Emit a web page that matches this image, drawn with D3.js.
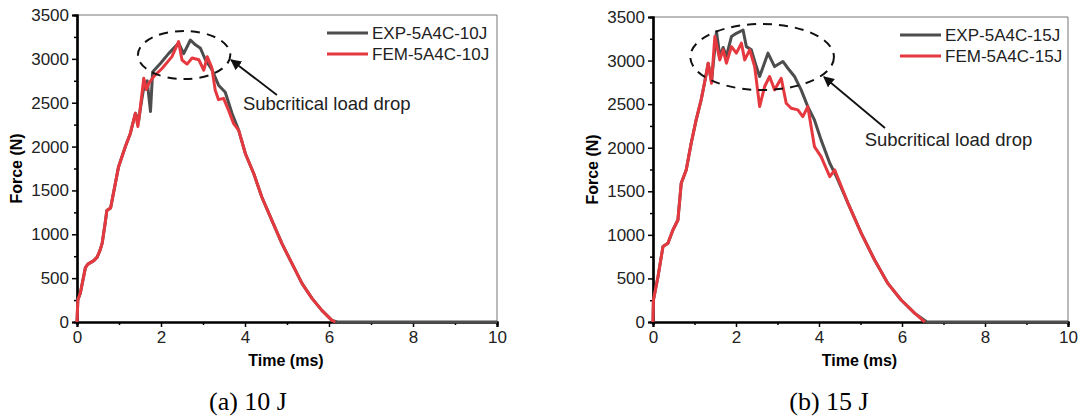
<!DOCTYPE html>
<html>
<head>
<meta charset="utf-8">
<script src="https://cdn.jsdelivr.net/npm/d3@7"></script>
<style>
body { margin: 0; background: #fff; }
text { font-family: "Liberation Sans", Arial, sans-serif; }
</style>
</head>
<body>
<div id="chart-area"></div>
<script>
// 10 J test, experiment + FE model
let exp10Time = [0, 0.02, 0.08, 0.2, 0.26, 0.4, 0.48, 0.55, 0.6, 0.67, 0.71, 0.8, 0.99, 1.15, 1.27, 1.39, 1.47, 1.53, 1.6, 1.67, 1.75, 1.8, 1.99, 2.18, 2.42, 2.54, 2.7, 2.82, 2.94, 3.06, 3.21, 3.37, 3.53, 3.69, 3.85, 4.01, 4.21, 4.4, 4.64, 4.88, 5.12, 5.36, 5.6, 5.83, 6.07, 6.2, 10]
let exp10Force = [0, 250, 330, 620, 660, 700, 740, 820, 900, 1125, 1270, 1300, 1771, 1999, 2150, 2380, 2300, 2500, 2700, 2750, 2400, 2850, 2950, 3060, 3180, 3060, 3215, 3160, 3120, 2987, 2880, 2700, 2620, 2380, 2185, 1918, 1690, 1425, 1159, 893, 665, 437, 266, 133, 19, 0, 0]
let fem10Time = [0, 0.02, 0.08, 0.2, 0.26, 0.4, 0.48, 0.55, 0.6, 0.67, 0.71, 0.8, 0.99, 1.15, 1.27, 1.39, 1.45, 1.51, 1.59, 1.65, 1.71, 1.83, 2.03, 2.26, 2.42, 2.5, 2.62, 2.74, 2.9, 3.02, 3.1, 3.21, 3.29, 3.37, 3.49, 3.61, 3.73, 3.85, 4.01, 4.21, 4.4, 4.64, 4.88, 5.12, 5.36, 5.6, 5.83, 6.07, 6.15]
let fem10Force = [0, 250, 330, 620, 660, 700, 740, 820, 900, 1125, 1270, 1300, 1771, 1999, 2150, 2380, 2228, 2456, 2779, 2650, 2720, 2800, 2893, 3025, 3196, 2987, 2940, 3010, 2990, 2870, 3025, 2900, 2645, 2535, 2550, 2413, 2261, 2185, 1918, 1690, 1425, 1159, 893, 665, 437, 266, 133, 19, 0]

// 15 J test
let exp15Time = [0, 0.01, 0.12, 0.24, 0.36, 0.48, 0.6, 0.68, 0.8, 0.92, 1.04, 1.16, 1.24, 1.33, 1.41, 1.53, 1.61, 1.69, 1.77, 1.89, 2.01, 2.17, 2.25, 2.37, 2.49, 2.57, 2.77, 2.93, 3.13, 3.25, 3.41, 3.57, 3.73, 3.89, 4.05, 4.26, 4.42, 4.7, 5.02, 5.34, 5.66, 5.98, 6.31, 6.6, 10]
let exp15Force = [0, 252, 520, 865, 903, 1056, 1170, 1592, 1745, 2051, 2319, 2549, 2740, 2970, 2760, 3332, 3050, 3150, 3050, 3275, 3313, 3351, 3160, 3123, 2931, 2817, 3085, 2931, 2990, 2912, 2817, 2664, 2472, 2319, 2090, 1822, 1668, 1362, 1017, 711, 443, 252, 99, 0, 0]
let fem15Time = [0, 0.01, 0.12, 0.24, 0.36, 0.48, 0.6, 0.68, 0.8, 0.92, 1.04, 1.16, 1.24, 1.33, 1.41, 1.49, 1.61, 1.69, 1.77, 1.89, 2.01, 2.13, 2.21, 2.33, 2.45, 2.57, 2.69, 2.81, 2.93, 3.09, 3.21, 3.33, 3.49, 3.61, 3.73, 3.81, 3.89, 4.05, 4.26, 4.38, 4.7, 5.02, 5.34, 5.66, 5.98, 6.31, 6.55]
let fem15Force = [0, 252, 520, 865, 903, 1056, 1170, 1592, 1745, 2051, 2319, 2549, 2740, 2970, 2740, 3275, 3008, 3123, 2970, 3160, 3085, 3200, 3008, 3123, 2931, 2472, 2702, 2817, 2664, 2797, 2510, 2453, 2434, 2357, 2472, 2243, 2013, 1898, 1668, 1745, 1362, 1017, 711, 443, 252, 99, 0]

let xTicks = [0, 2, 4, 6, 8, 10]
let yTicks = [0, 500, 1000, 1500, 2000, 2500, 3000, 3500]

let width = 1081,
height = 418;

let svg = d3.select("#chart-area").append("svg")
.attr("width", width)
.attr("height", height)

svg.append('rect').attr('width', width).attr('height', height).attr('fill', '#fff')

let defs = svg.append('defs')
defs.append('marker')
	.attr('id', 'arrow')
	.attr('viewBox', '0 0 10 10')
	.attr('refX', 9).attr('refY', 5)
	.attr('markerWidth', 6).attr('markerHeight', 6)
	.attr('orient', 'auto')
	.append('path')
	.attr('d', 'M0,0 L10,5 L0,10 Z')
	.attr('fill', '#111')

function drawPanel(opt) {
	let x = d3.scaleLinear().domain([0, 10]).range([opt.left, opt.right])
	let y = d3.scaleLinear().domain([0, 3500]).range([opt.bottom, opt.top])
	let g = svg.append('g')

	// top + right frame
	g.append('path')
		.attr('d', `M${opt.left},${opt.top}H${opt.right}V${opt.bottom}`)
		.attr('fill', 'none').attr('stroke', '#777').attr('stroke-width', 1)

	// minor ticks
	let xAxisMinor = d3.axisBottom(x).tickValues(d3.range(1, 10, 2)).tickSize(3).tickFormat('')
	let yAxisMinor = d3.axisLeft(y).tickValues(d3.range(250, 3500, 500)).tickSize(3).tickFormat('')
	g.append('g').attr('transform', `translate(0,${opt.bottom})`).call(xAxisMinor)
	g.append('g').attr('transform', `translate(${opt.left},0)`).call(yAxisMinor)

	let xAxis = d3.axisBottom(x).tickValues(xTicks).tickSize(5).tickPadding(4).tickFormat(d3.format('d'))
	let yAxis = d3.axisLeft(y).tickValues(yTicks).tickSize(5).tickPadding(3).tickFormat(d3.format('d'))
	let gx = g.append('g').attr('class', 'axis').attr('transform', `translate(0,${opt.bottom})`).call(xAxis)
	let gy = g.append('g').attr('class', 'axis').attr('transform', `translate(${opt.left},0)`).call(yAxis)
	g.selectAll('.domain').attr('stroke', '#000').attr('stroke-width', 2.2)
	g.selectAll('.tick line').attr('stroke', '#000').attr('stroke-width', 1.5)
	gx.selectAll('text').attr('font-size', 17).attr('fill', '#222').attr('font-family', '"Liberation Sans", Arial')
	gy.selectAll('text').attr('font-size', 17).attr('fill', '#222').attr('font-family', '"Liberation Sans", Arial')

	let line = d3.line().x(d => x(d[0])).y(d => y(d[1]))
	let expData = opt.expT.map((t, i) => [t, opt.expF[i]])
	let femData = opt.femT.map((t, i) => [t, opt.femF[i]])
	g.append('path').datum(expData).attr('d', line)
		.attr('fill', 'none').attr('stroke', '#4d4d4d').attr('stroke-width', 3).attr('stroke-linejoin', 'round')
	g.append('path').datum(femData).attr('d', line)
		.attr('fill', 'none').attr('stroke', '#e5393f').attr('stroke-width', 3).attr('stroke-linejoin', 'round')

	// axis titles
	g.append('text')
		.attr('x', (opt.left + opt.right) / 2 - 1).attr('y', 366)
		.attr('text-anchor', 'middle').attr('font-weight', 'bold').attr('font-size', 16)
		.text('Time (ms)')
	g.append('text')
		.attr('transform', `translate(${opt.left - 55},${y(1750)}) rotate(-90)`)
		.attr('text-anchor', 'middle').attr('font-weight', 'bold').attr('font-size', 16)
		.text('Force (N)')

	// legend
	let lg = g.append('g')
	;[['EXP', '#4d4d4d'], ['FEM', '#e5393f']].forEach((s, i) => {
		let ly = opt.top + 18 + i * 21
		lg.append('line').attr('x1', opt.legX).attr('x2', opt.legX + 41)
			.attr('y1', ly).attr('y2', ly).attr('stroke', s[1]).attr('stroke-width', 3)
		lg.append('text').attr('x', opt.legX + 45).attr('y', ly + 6)
			.attr('font-size', 17).attr('fill', '#222')
			.text(s[0] + '-5A4C-' + opt.energy)
	})

	// annotation
	g.append('ellipse')
		.attr('cx', x(opt.ell[0])).attr('cy', y(opt.ell[1]))
		.attr('rx', x(opt.ell[2]) - x(0)).attr('ry', y(0) - y(opt.ell[3]))
		.attr('fill', 'none').attr('stroke', '#111').attr('stroke-width', 2)
		.attr('stroke-dasharray', '9,7')
	g.append('line')
		.attr('x1', x(opt.arr[0])).attr('y1', y(opt.arr[1]))
		.attr('x2', x(opt.arr[2])).attr('y2', y(opt.arr[3]))
		.attr('stroke', '#111').attr('stroke-width', 1.8).attr('marker-end', 'url(#arrow)')
	g.append('text')
		.attr('x', x(opt.lab[0])).attr('y', y(opt.lab[1]))
		.attr('font-size', 18.5).attr('fill', '#222')
		.text('Subcritical load drop')

	// caption
	svg.append('text')
		.attr('x', opt.capX).attr('y', 410)
		.attr('text-anchor', 'middle')
		.style('font-family', '"Liberation Serif", "Times New Roman", serif')
		.attr('font-size', 26)
		.text(opt.caption)
}

drawPanel({
	left: 77, right: 497, top: 15, bottom: 322,
	expT: exp10Time, expF: exp10Force, femT: fem10Time, femF: fem10Force,
	energy: '10J', legX: 327,
	ell: [2.55, 3044, 1.1, 274], arr: [4.76, 2588, 3.67, 2987], lab: [3.95, 2417],
	capX: 248, caption: '(a) 10 J'
})

drawPanel({
	left: 653, right: 1068, top: 17, bottom: 322,
	expT: exp15Time, expF: exp15Force, femT: fem15Time, femF: fem15Force,
	energy: '15J', legX: 900,
	ell: [2.63, 3041, 1.73, 379], arr: [5.59, 2226, 4.12, 2812], lab: [5.1, 2020],
	capX: 829, caption: '(b) 15 J'
})
</script>
</body>
</html>
